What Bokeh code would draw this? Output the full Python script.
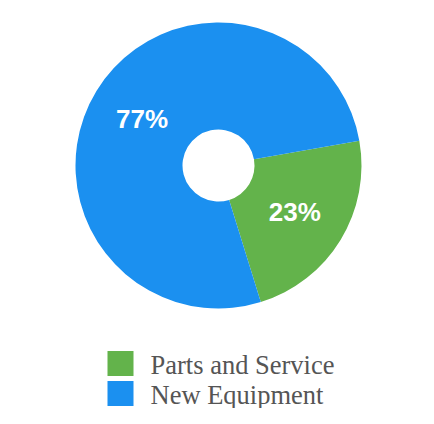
import math
from bokeh.plotting import figure
from bokeh.models import ColumnDataSource, Range1d
from bokeh.core.properties import value
from bokeh.embed import file_html
from bokeh.resources import INLINE

# data
categories = ["Parts and Service", "New Equipment"]
shares = [23, 77]
colors = ["#63B34B", "#1B90F0"]

W, H = 418, 408
p = figure(width=W, height=H, output_backend="svg", toolbar_location=None,
           x_range=Range1d(0, W), y_range=Range1d(0, H), min_border=0,
           outline_line_color=None, background_fill_color="white",
           border_fill_color="white")
p.axis.visible = False
p.grid.visible = False

cx, cy = 218, 243
r_in, r_out = 36, 143
start0 = math.radians(-72.8)

total = sum(shares)
starts, ends, mids = [], [], []
a = start0
for v in shares:
    span = 2 * math.pi * v / total
    starts.append(a)
    ends.append(a + span)
    mids.append(a + span / 2)
    a += span

r_lab = (r_in + r_out) / 2
src = ColumnDataSource(dict(
    start=starts, end=ends, color=colors,
    lx=[cx + r_lab * math.cos(m) for m in mids],
    ly=[cy + r_lab * math.sin(m) for m in mids],
    label=[f"{v}%" for v in shares],
))

p.annular_wedge(x=cx, y=cy, inner_radius=r_in, outer_radius=r_out,
                start_angle="start", end_angle="end", direction="anticlock",
                fill_color="color", line_color=None, source=src)

p.text(x="lx", y="ly", text="label", source=src, text_color="white",
       text_font=value("Liberation Sans"), text_font_style="bold",
       text_font_size="26px", text_align="center", text_baseline="middle")

# legend
leg_src = ColumnDataSource(dict(
    sx=[120, 120], sy=[45, 15], tx=[150, 150], ty=[44, 14],
    color=colors, label=categories,
))
p.rect(x="sx", y="sy", width=26, height=25, fill_color="color",
       line_color=None, source=leg_src)
p.text(x="tx", y="ty", text="label", source=leg_src, text_color="#555555",
       text_font=value("Liberation Serif"), text_font_size="26.5px",
       text_align="left", text_baseline="middle")

open("out.html", "w").write(file_html(p, INLINE))
